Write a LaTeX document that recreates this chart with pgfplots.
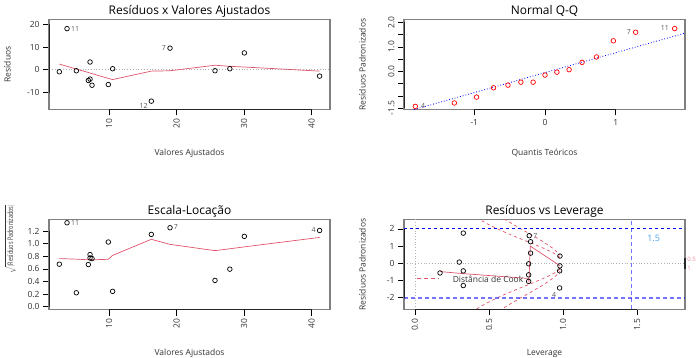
\documentclass[border=0pt]{standalone}
\usepackage{fontspec}
\setmainfont{Open Sans}
\usepackage{graphicx}
\usepackage{pgfplots}
\usepackage{pgfplotstable}
\pgfplotsset{compat=1.18}
\definecolor{rtwo}{HTML}{DF536B}
\definecolor{lblue}{HTML}{4DA3F0}
\definecolor{framegray}{HTML}{808080}
\definecolor{labgray}{HTML}{555555}
\definecolor{txt}{HTML}{333333}

\tikzset{lab/.style={font=\fontsize{7}{8}\selectfont, text=labgray, inner sep=1pt}}
\pgfplotsset{
  rpts/.style={only marks, mark=o, mark size=2.3bp, mark options={black, line width=0.7bp}},
  lowline/.style={no marks, rtwo, line width=0.7bp},
  rbase/.style={
  scale only axis, width=281bp, height=90bp, anchor=south west,
  axis line style={framegray, line width=1.3bp},
  tick pos=left, tick align=outside, major tick length=6bp,
  every tick/.style={black, line width=0.6bp},
  /pgf/number format/assume math mode=true,
  tick label style={font=\fontsize{8.5}{10}\selectfont, color=txt},
  label style={font=\fontsize{8.5}{10}\selectfont, color=txt},
  every axis title shift=0pt,
  title style={font=\fontsize{12}{14}\selectfont, at={(axis description cs:0.5,1.056)}, anchor=base},
  xlabel style={at={(axis description cs:0.5,-0.511)}, anchor=base},
  ylabel style={at={(axis description cs:-0.148,0.5)}, anchor=center},
  clip mode=individual,
}}

\pgfplotstableread{
x y s
2.64 -0.89 0.675
3.78 18.07 1.333
5.16 -0.44 0.221
6.94 -4.7 0.669
7.19 3.4 0.827
7.19 -4.1 0.774
7.48 -6.8 0.764
9.90 -6.5 1.027
10.54 0.44 0.243
16.27 -13.8 1.148
19.04 9.5 1.254
25.70 -0.44 0.417
27.90 0.44 0.596
30.05 7.4 1.117
41.20 -2.8 1.211
}\resfit

\pgfplotstableread{
x y s
2.64 2.5 0.764
3.78 1.5 0.760
5.16 0.3 0.755
6.94 -1.2 0.745
7.19 -1.45 0.744
7.48 -1.7 0.744
9.90 -3.8 0.753
10.54 -4.3 0.815
16.27 -0.6 1.07
19.04 -0.45 0.99
25.70 2.0 0.89
27.90 1.5 0.92
30.05 1.2 0.95
41.20 -0.6 1.10
}\lowfit

\pgfplotstableread{
q r
-1.834 -1.43
-1.282 -1.29
-0.967 -1.05
-0.728 -0.67
-0.524 -0.56
-0.341 -0.44
-0.168 -0.44
0.000 -0.15
0.168 -0.03
0.341 0.07
0.524 0.37
0.728 0.59
0.967 1.25
1.282 1.60
1.834 1.75
}\qq

\pgfplotstableread{
h r
0.169 -0.56
0.299 0.07
0.326 1.75
0.326 -0.44
0.326 -1.29
0.771 1.60
0.780 1.25
0.780 0.59
0.767 -0.03
0.767 -0.67
0.767 -1.05
0.978 0.42
0.978 -0.15
0.976 -0.44
0.976 -1.43
}\lev

\pgfplotstableread{
h a b na nb
0.35 3.047 4.309 -3.047 -4.309
0.40 2.739 3.873 -2.739 -3.873
0.45 2.472 3.496 -2.472 -3.496
0.50 2.236 3.162 -2.236 -3.162
0.55 2.023 2.860 -2.023 -2.860
0.60 1.826 2.582 -1.826 -2.582
0.65 1.641 2.320 -1.641 -2.320
0.70 1.464 2.070 -1.464 -2.070
0.75 1.291 1.826 -1.291 -1.826
0.80 1.118 1.581 -1.118 -1.581
0.85 0.939 1.328 -0.939 -1.328
0.90 0.745 1.054 -0.745 -1.054
0.93 0.613 0.868 -0.613 -0.868
0.95 0.513 0.725 -0.513 -0.725
0.97 0.393 0.556 -0.393 -0.556
0.98 0.319 0.452 -0.319 -0.452
}\cook

\begin{document}
\begin{tikzpicture}
\path[use as bounding box] (0,0) rectangle (699bp,358bp);

% Panel 1
\begin{axis}[rbase, at={(49bp,248.5bp)},
  xmin=1.11, xmax=42.74, ymin=-17.47, ymax=22.09,
  xtick={10,20,30,40}, ytick={-10,0,10,20},
  xticklabel style={rotate=90, anchor=east},
  title={Resíduos x Valores Ajustados}, xlabel={Valores Ajustados}, ylabel={Resíduos}]
\addplot[gray!60, dotted, line width=0.8bp, forget plot] coordinates {(1.11,0) (42.74,0)};
\addplot[lowline] table[x=x,y=y] {\lowfit};
\addplot[rpts] table[x=x,y=y] {\resfit};
\draw[black!85, line width=0.9bp] (axis cs:10,-17.47) -- (axis cs:40,-17.47);
\draw[black!85, line width=0.9bp] (axis cs:1.11,-10) -- (axis cs:1.11,20);
\node[lab, anchor=west] at (axis cs:4.2,18.07) {11};
\node[lab, anchor=east] at (axis cs:18.6,9.7) {7};
\node[lab, anchor=north east] at (axis cs:15.9,-14.3) {12};
\end{axis}

% Panel 2
\begin{axis}[rbase, at={(404bp,248.5bp)},
  xmin=-1.994, xmax=1.98, ymin=-1.556, ymax=2.12,
  xtick={-1,0,1}, ytick={-1.5,-1,-0.5,0,0.5,1,1.5,2},
  yticklabels={-1.5,,,0.0,,1.0,,2.0},
  yticklabel style={rotate=90, anchor=south},
  title={Normal Q-Q}, xlabel={Quantis Teóricos}, ylabel={Resíduos Padronizados}]
\addplot[no marks, blue, dotted, line width=0.8bp] coordinates {(-2,-1.68) (2,1.58)};
\addplot[only marks, mark=o, mark size=2.3bp, mark options={red, line width=0.7bp}] table[x=q,y=r] {\qq};
\draw[black!85, line width=0.9bp] (axis cs:-1,-1.556) -- (axis cs:1,-1.556);
\draw[black!85, line width=0.9bp] (axis cs:-1.994,-1.5) -- (axis cs:-1.994,2);
\node[lab, anchor=west] at (axis cs:-1.77,-1.40) {4};
\node[lab, anchor=east] at (axis cs:1.23,1.62) {7};
\node[lab, anchor=east] at (axis cs:1.77,1.77) {11};
\end{axis}

% Panel 3
\begin{axis}[rbase, at={(49bp,48.5bp)},
  xmin=1.11, xmax=42.74, ymin=-0.045, ymax=1.385,
  xtick={10,20,30,40}, ytick={0,0.2,0.4,0.6,0.8,1.0,1.2},
  yticklabel style={/pgf/number format/.cd, fixed, fixed zerofill, precision=1},
  xticklabel style={rotate=90, anchor=east},
  ylabel style={at={(axis description cs:-0.137,0.783)}},
  title={Escala-Locação}, xlabel={Valores Ajustados},
  ylabel={\scalebox{0.64}[0.9]{$\sqrt{|\mbox{Resíduos Padronizados}|}$}}]
\addplot[lowline] table[x=x,y=s] {\lowfit};
\addplot[rpts] table[x=x,y=s] {\resfit};
\draw[black!85, line width=0.9bp] (axis cs:10,-0.045) -- (axis cs:40,-0.045);
\draw[black!85, line width=0.9bp] (axis cs:1.11,0) -- (axis cs:1.11,1.2);
\node[lab, anchor=west] at (axis cs:4.2,1.335) {11};
\node[lab, anchor=west] at (axis cs:19.45,1.265) {7};
\node[lab, anchor=east] at (axis cs:40.8,1.225) {4};
\end{axis}

% Panel 4
\begin{axis}[rbase, at={(404bp,48.5bp)},
  xmin=-0.074, xmax=1.822, ymin=-2.68, ymax=2.54,
  xtick={0,0.5,1,1.5}, ytick={-2,-1,0,1,2},
  xticklabel style={rotate=90, anchor=east, /pgf/number format/.cd, fixed, fixed zerofill, precision=1},
  title={Resíduos vs Leverage}, xlabel={Leverage}, ylabel={Resíduos Padronizados}]
\addplot[gray!60, dotted, line width=0.8bp, forget plot] coordinates {(-0.074,0) (1.822,0)};
\addplot[gray!60, dotted, line width=0.8bp, forget plot] coordinates {(0,-2.68) (0,2.54)};
\addplot[no marks, rtwo, dashed, line width=0.7bp] table[x=h,y=a] {\cook};
\addplot[no marks, rtwo, dashed, line width=0.7bp] table[x=h,y=b] {\cook};
\addplot[no marks, rtwo, dashed, line width=0.7bp] table[x=h,y=na] {\cook};
\addplot[no marks, rtwo, dashed, line width=0.7bp] table[x=h,y=nb] {\cook};
\addplot[no marks, blue, dashed, line width=0.9bp] coordinates {(-0.074,2) (1.822,2)};
\draw[blue, draw opacity=0.55, dash pattern=on 4bp off 3bp, line width=1.5bp] (axis cs:-0.074,-2) -- (axis cs:1.822,-2);
\draw[blue, draw opacity=0.55, dash pattern=on 4bp off 3bp, line width=1.5bp] (axis cs:1.462,-2.68) -- (axis cs:1.462,2.54);
\addplot[lowline] coordinates {(0.169,-0.48) (0.299,-0.58) (0.326,-0.6) (0.767,-0.88) (0.769,-1.1) (0.778,1.0) (0.978,-0.14)};
\addplot[rpts] table[x=h,y=r] {\lev};
\draw[black!85, line width=0.9bp] (axis cs:0,-2.68) -- (axis cs:1.5,-2.68);
\draw[black!85, line width=0.9bp] (axis cs:-0.074,-2) -- (axis cs:-0.074,2);
\draw[black!85, line width=1.2bp] (axis cs:1.822,-0.318) -- (axis cs:1.822,0.318);
\draw[rtwo, dash pattern=on 4bp off 3bp, line width=0.8bp] (axis cs:0.011,-0.9) -- (axis cs:0.157,-0.9);
\node[anchor=west, font=\fontsize{8.5}{10}\selectfont, text=txt, inner sep=0pt] at (axis cs:0.254,-0.9) {Distância de Cook};
\node[font=\fontsize{9}{10}\selectfont, text=lblue] at (axis cs:1.61,1.46) {1.5};
\node[font=\fontsize{6}{7}\selectfont, text=rtwo!70, anchor=west, inner sep=1pt] at (axis cs:1.83,0.22) {0.5};
\node[font=\fontsize{6}{7}\selectfont, text=rtwo!70, anchor=west, inner sep=1pt] at (axis cs:1.83,-0.32) {1};
\node[lab, anchor=west] at (axis cs:0.79,1.6) {7};
\node[lab, anchor=north east] at (axis cs:0.96,-1.6) {4};
\end{axis}
\end{tikzpicture}
\end{document}
